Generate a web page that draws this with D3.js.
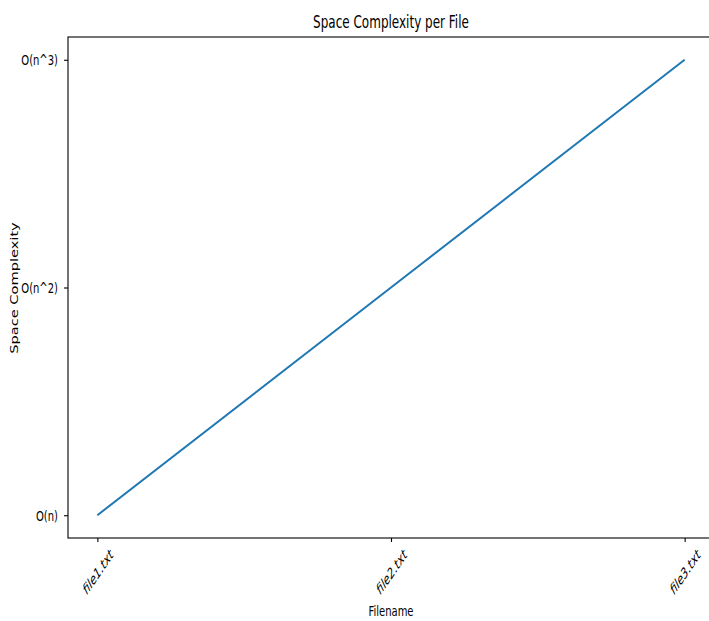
<!DOCTYPE html>
<html>
<head>
<meta charset="utf-8">
<script src="https://cdn.jsdelivr.net/npm/d3@7"></script>
<style>
  body { margin: 0; background: #fff; }
  svg { display: block; }
  text { font-family: "DejaVu Sans", sans-serif; fill: #000; }
</style>
</head>
<body>
<div id="chart"></div>
<script>
// Chart data
const files = ["file1.txt", "file2.txt", "file3.txt"];
const complexityLevels = ["O(n)", "O(n^2)", "O(n^3)"];
const fileComplexity = ["O(n)", "O(n^2)", "O(n^3)"];

// Canvas size and plot box
const width = 709;
const height = 621;
const margin = {top: 37, right: -5, bottom: 83, left: 68};

// the picture is squeezed sideways, so every text gets a narrow x scale
const squeeze = 0.69;

const svg = d3.select("#chart").append("svg")
    .attr("width", width)
    .attr("height", height);

const x = d3.scalePoint()
    .domain(files)
    .range([margin.left, width - margin.right])
    .padding(0.1);

const y = d3.scalePoint()
    .domain(complexityLevels)
    .range([height - margin.bottom, margin.top])
    .padding(0.1);

// Frame around the plot
svg.append("rect")
    .attr("x", margin.left)
    .attr("y", margin.top)
    .attr("width", width - margin.right - margin.left)
    .attr("height", height - margin.bottom - margin.top)
    .attr("fill", "none")
    .attr("stroke", "#000")
    .attr("stroke-width", 1.1);

// Y axis
const yAxis = svg.append("g")
    .attr("transform", `translate(${margin.left},0)`)
    .call(d3.axisLeft(y).tickSize(4).tickSizeOuter(0));
yAxis.select(".domain").remove();
yAxis.selectAll(".tick line").attr("stroke", "#000").attr("stroke-width", 1.1);
yAxis.selectAll(".tick text")
    .attr("x", 0)
    .attr("dy", "0.35em")
    .attr("transform", `translate(-10,0) scale(${squeeze},1)`)
    .style("font-size", "14.5px")
    .style("font-family", "DejaVu Sans")
    .attr("fill", "#000");

// X axis with slanted labels
const xAxis = svg.append("g")
    .attr("transform", `translate(0,${height - margin.bottom})`)
    .call(d3.axisBottom(x).tickSize(4).tickSizeOuter(0));
xAxis.select(".domain").remove();
xAxis.selectAll(".tick line").attr("stroke", "#000").attr("stroke-width", 1.1);
xAxis.selectAll(".tick text")
    .attr("y", 0)
    .attr("dy", "0.35em")
    .attr("text-anchor", "middle")
    .attr("transform", `translate(0,34) scale(${squeeze},1) rotate(-45)`)
    .style("font-size", "14.5px")
    .style("font-family", "DejaVu Sans")
    .style("font-style", "italic")
    .attr("fill", "#000");

// The line
const line = d3.line()
    .x((d, i) => x(files[i]))
    .y(d => y(d));

svg.append("path")
    .datum(fileComplexity)
    .attr("d", line)
    .attr("fill", "none")
    .attr("stroke", "#1f77b4")
    .attr("stroke-width", 2);

// Title and axis labels
svg.append("text")
    .attr("transform", `translate(391,28) scale(${squeeze},1)`)
    .attr("text-anchor", "middle")
    .style("font-size", "17.4px")
    .text("Space Complexity per File");

svg.append("text")
    .attr("transform", `translate(391,616) scale(${squeeze},1)`)
    .attr("text-anchor", "middle")
    .style("font-size", "14.5px")
    .text("Filename");

svg.append("text")
    .attr("transform", `translate(14,288) scale(${squeeze},1) rotate(-90)`)
    .attr("text-anchor", "middle")
    .attr("dy", "0.35em")
    .style("font-size", "14.6px")
    .text("Space Complexity");
</script>
</body>
</html>
